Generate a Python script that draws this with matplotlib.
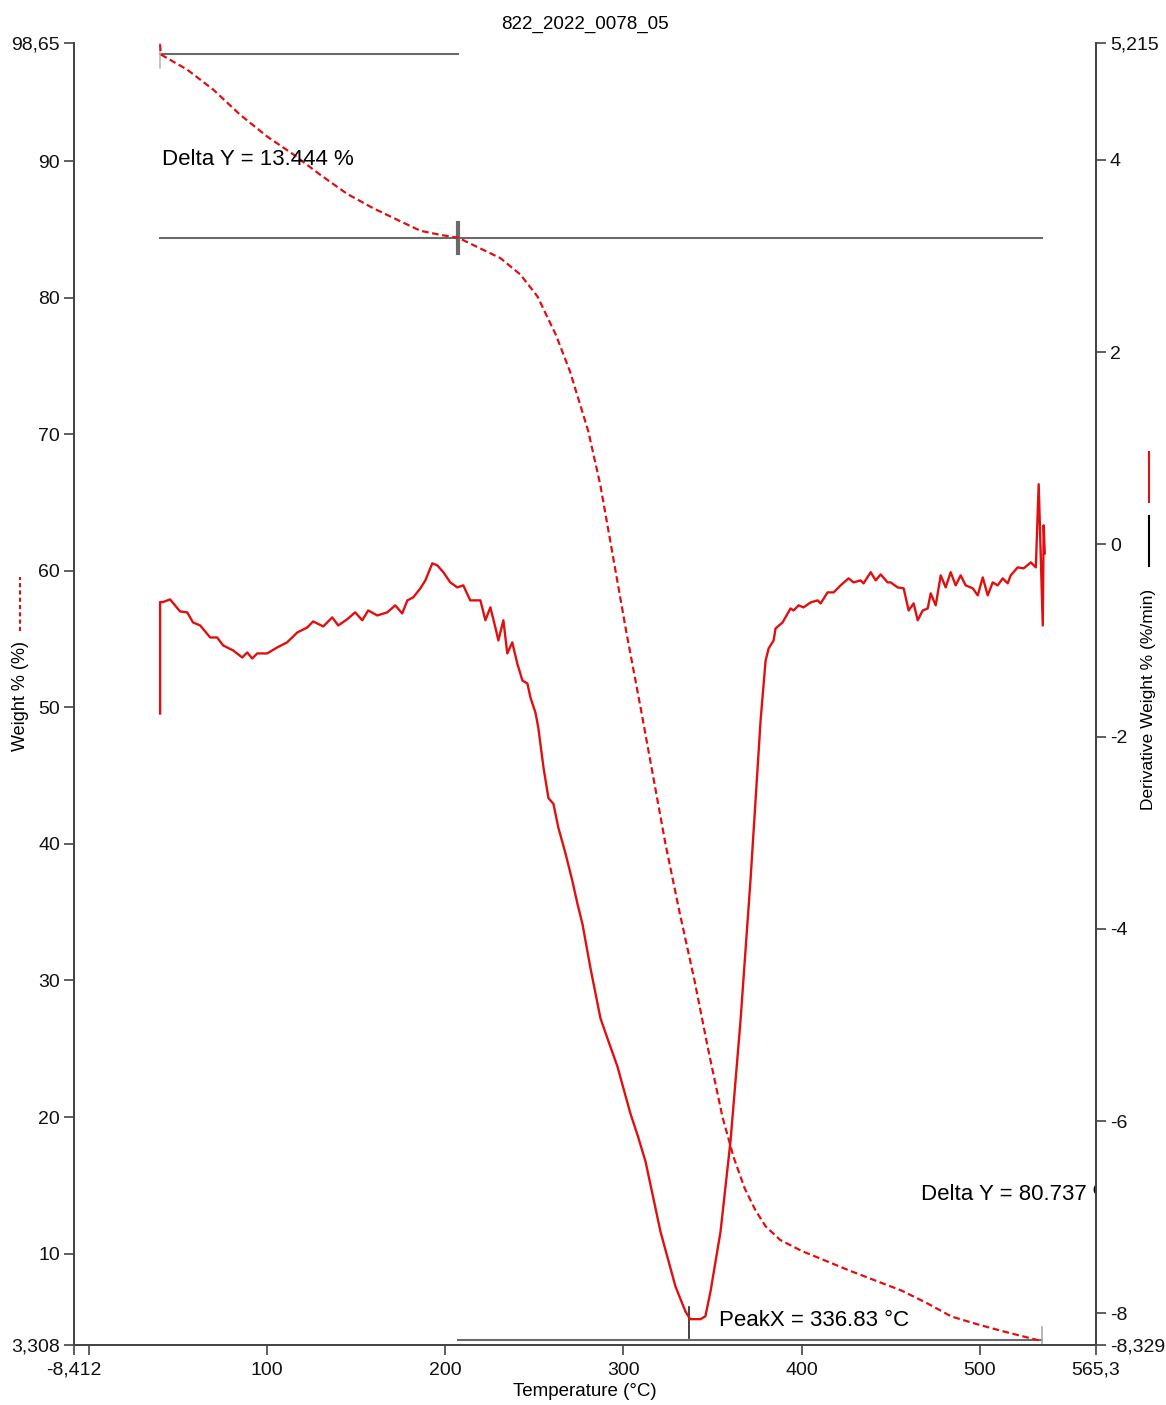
import matplotlib
matplotlib.use("Agg")
import matplotlib.pyplot as plt
from matplotlib.lines import Line2D

plt.rcParams['font.family'] = ['Liberation Sans', 'DejaVu Sans']

# weight curve (left axis)
temp_w = [39.9, 40.3, 55.1, 69.7, 84.8, 100.0, 114.6, 129.8, 144.9, 159.4, 174.7, 186.0,
          197.2, 207.3, 219.7, 230.9, 242.1, 251.7, 262.0, 270.0, 280.3, 287.0, 293.8,
          301.5, 309.6, 316.6, 323.6, 331.5, 339.9, 347.5, 355.6, 362.0, 368.0, 374.0,
          379.8, 388.0, 400.0, 414.0, 428.0, 442.0, 456.0, 470.0, 484.0, 498.0, 512.0,
          524.0, 534.7]
weight = [98.55, 97.81, 96.7, 95.24, 93.4, 91.8, 90.5, 89.0, 87.6, 86.56, 85.6, 84.9,
          84.6, 84.39, 83.6, 82.9, 81.7, 80.1, 77.3, 74.6, 70.2, 66.3, 61.3,
          55.6, 50.0, 45.0, 40.0, 35.0, 30.0, 25.0, 20.0, 17.0, 14.8, 13.2,
          12.0, 11.0, 10.2, 9.45, 8.7, 8.0, 7.3, 6.4, 5.4, 4.85, 4.35, 3.95, 3.6]

# derivative curve (right axis)
temp_d = [39.9, 39.9, 41.6, 45.5, 51.1, 55.1, 58.4, 62.4, 68.0, 71.9, 75.3, 80.9, 86.0,
          88.8, 91.6, 94.4, 100.0, 105.6, 111.2, 116.9, 122.5, 125.8, 131.5, 136.5, 139.9,
          144.9, 149.4, 153.4, 156.7, 161.8, 167.4, 171.9, 175.8, 178.7, 182.0, 186.0,
          188.8, 192.7, 195.5, 198.9, 202.8, 206.7, 210.1, 214.0, 219.7, 222.5, 225.3,
          228.1, 229.8, 232.6, 234.8, 237.6, 240.4, 243.3, 246.1, 247.8, 250.6, 252.2,
          255.1, 257.9, 260.7, 263.5, 267.4, 271.3, 274.2, 277.0, 281.5, 287.1, 291.6,
          296.6, 300.0, 303.9, 308.0, 312.4, 320.8, 329.2, 334.8, 337.5, 343.3, 346.0,
          348.9, 354.5, 360.1, 365.7, 371.3, 377.0, 379.8, 381.5, 384.3, 385.4, 389.3,
          393.8, 395.5, 398.3, 401.1, 405.1, 409.0, 410.7, 414.6, 418.0, 421.9, 426.4,
          429.2, 433.1, 434.8, 438.8, 441.6, 444.4, 448.3, 450.0, 453.9, 457.3, 460.1,
          462.9, 465.2, 468.0, 470.8, 472.5, 475.3, 478.1, 480.9, 483.7, 486.5, 489.3,
          492.1, 496.1, 498.9, 501.7, 504.5, 507.3, 510.1, 512.9, 515.7, 517.4, 521.3,
          524.7, 528.7, 531.5, 533.1, 535.4, 535.9, 536.5]
deriv = [-1.76, -0.60, -0.60, -0.573, -0.698, -0.708, -0.813, -0.844, -0.969, -0.969, -1.052,
         -1.104, -1.177, -1.125, -1.188, -1.135, -1.135, -1.073, -1.02, -0.917, -0.865,
         -0.802, -0.854, -0.76, -0.844, -0.78, -0.708, -0.79, -0.688, -0.74, -0.708,
         -0.635, -0.719, -0.583, -0.552, -0.458, -0.375, -0.198, -0.219, -0.29, -0.396,
         -0.448, -0.427, -0.583, -0.583, -0.79, -0.656, -0.865, -1.0, -0.79, -1.135,
         -1.02, -1.24, -1.417, -1.448, -1.594, -1.75, -1.906, -2.32, -2.64, -2.70,
         -2.95, -3.21, -3.50, -3.74, -3.95, -4.41, -4.93, -5.17, -5.43, -5.66, -5.92,
         -6.15, -6.42, -7.15, -7.72, -7.98, -8.06, -8.06, -8.03, -7.77, -7.15, -6.21,
         -4.96, -3.50, -1.83, -1.21, -1.083, -1.0, -0.875, -0.813, -0.667, -0.688,
         -0.635, -0.656, -0.604, -0.583, -0.615, -0.50, -0.50, -0.427, -0.354, -0.396,
         -0.375, -0.406, -0.29, -0.375, -0.313, -0.396, -0.396, -0.448, -0.458, -0.688,
         -0.615, -0.79, -0.688, -0.667, -0.51, -0.635, -0.323, -0.448, -0.29, -0.427,
         -0.323, -0.427, -0.458, -0.531, -0.344, -0.531, -0.396, -0.427, -0.354, -0.406,
         -0.323, -0.24, -0.25, -0.188, -0.24, 0.625, -0.844, 0.198, -0.094]

# step analysis markers
step_t = 207.3
step_w = 84.39
start_t = 39.9
end_t = 534.7
delta1 = 13.444
delta2 = 80.737
peak_t = 336.83

xlim = (-8.412, 565.3)
ylim_w = (3.308, 98.65)
ylim_d = (-8.329, 5.215)
xticks = [-8.412, 0, 100, 200, 300, 400, 500, 565.3]
xlabels = ['-8,412', '', '100', '200', '300', '400', '500', '565,3']
wticks = [3.308, 10, 20, 30, 40, 50, 60, 70, 80, 90, 98.65]
wlabels = ['3,308', '10', '20', '30', '40', '50', '60', '70', '80', '90', '98,65']
dticks = [-8.329, -8, -6, -4, -2, 0, 2, 4, 5.215]
dlabels = ['-8,329', '-8', '-6', '-4', '-2', '0', '2', '4', '5,215']

red = '#e01010'
axis_col = '#444444'
line_col = '#6a6a6a'

fig = plt.figure(figsize=(11.66, 14.05), dpi=100)
ax = fig.add_axes([0.0635, 0.0427, 0.8765, 0.9267])
ax2 = ax.twinx()

ax.plot(temp_w, weight, color=red, lw=1.6, ls=(0, (3, 1.6)), zorder=3)
ax2.plot(temp_d, deriv, color=red, lw=1.7, zorder=3)

# horizontal step lines
ax.plot([start_t, step_t], [step_w + delta1, step_w + delta1], color=line_col, lw=1.5)
ax.plot([start_t, end_t], [step_w, step_w], color=line_col, lw=1.5)
ax.plot([step_t, end_t], [step_w - delta2, step_w - delta2], color=line_col, lw=1.5)
ax.plot([step_t, step_t], [step_w - 1.1, step_w + 1.1], color=line_col, lw=3)
ax.plot([start_t, start_t], [ylim_w[1], 96.8], color='#bbbbbb', lw=1.2)
ax.plot([end_t, end_t], [3.3, 4.6], color='#aaaaaa', lw=1.2)
ax2.plot([peak_t, peak_t], [-7.93, -8.26], color='#222222', lw=1.2)

ax.text(41, 90.1, 'Delta Y = %.3f %%' % delta1, fontsize=16, va='center', ha='left')
ax.text(467.0, 14.3, 'Delta Y = %.3f %%' % delta2, fontsize=16, va='center', ha='left',
        clip_on=True)
ax2.text(353.5, -8.07, 'PeakX = %.2f °C' % peak_t, fontsize=16, va='center', ha='left')

ax.set_xlim(*xlim)
ax.set_ylim(*ylim_w)
ax2.set_ylim(*ylim_d)
ax.set_xticks(xticks)
ax.set_xticklabels(xlabels)
ax.set_yticks(wticks)
ax.set_yticklabels(wlabels)
ax2.set_yticks(dticks)
ax2.set_yticklabels(dlabels)

for a in (ax, ax2):
    a.spines['top'].set_visible(False)
    for s in ('left', 'right', 'bottom'):
        a.spines[s].set_color(axis_col)
        a.spines[s].set_linewidth(1.3)
    a.tick_params(colors=axis_col, labelcolor='#111111', labelsize=14, length=7, width=1.2,
                  direction='out', pad=3)
ax.tick_params(axis='x', pad=5)

ax.set_title('822_2022_0078_05', fontsize=13.5, pad=10)
ax.set_xlabel('Temperature (°C)', fontsize=13.5, labelpad=3)

# axis labels with line swatches
fig.text(0.0175, 0.5046, 'Weight % (%)', rotation=90, fontsize=13, ha='center', va='center')
fig.add_artist(Line2D([0.0175, 0.0175], [0.551, 0.589], color=red, lw=1.5, ls=(0, (2, 1.5)),
                      transform=fig.transFigure))
fig.text(0.985, 0.502, 'Derivative Weight % (%/min)', rotation=90, fontsize=12.5,
         ha='center', va='center')
fig.add_artist(Line2D([0.985, 0.985], [0.597, 0.633], color='black', lw=1.5,
                      transform=fig.transFigure))
fig.add_artist(Line2D([0.985, 0.985], [0.643, 0.678], color=red, lw=1.5,
                      transform=fig.transFigure))

fig.savefig('out.png', dpi=100)
